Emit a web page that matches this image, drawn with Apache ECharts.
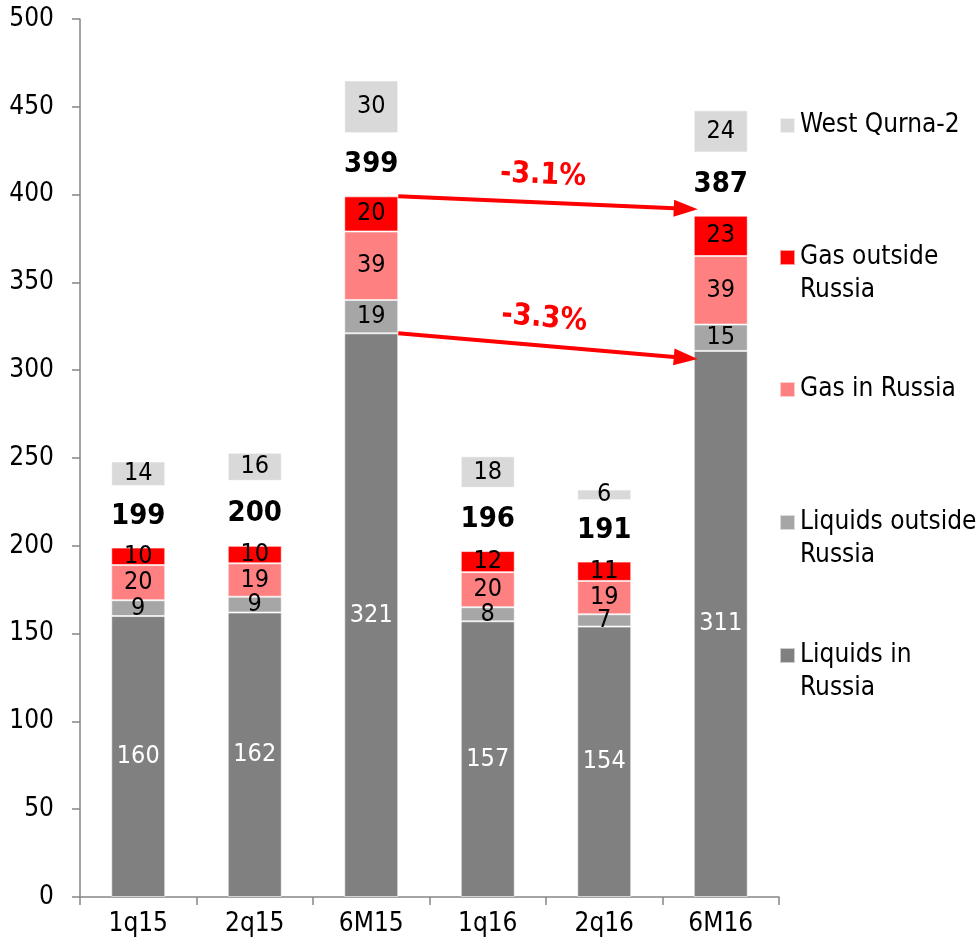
<!DOCTYPE html>
<html>
<head>
<meta charset="utf-8">
<style>
  html, body { margin: 0; padding: 0; background: #fff; }
  #chart { width: 978px; height: 948px; }
</style>
<script src="https://cdn.jsdelivr.net/npm/echarts@6/dist/echarts.min.js"></script>
</head>
<body>
<div id="chart"></div>
<script>
// values
var categories = ['1q15', '2q15', '6M15', '1q16', '2q16', '6M16'];
var liquidsInRussia = [160, 162, 321, 157, 154, 311];
var liquidsOutsideRussia = [9, 9, 19, 8, 7, 15];
var gasInRussia = [20, 19, 39, 20, 19, 39];
var gasOutsideRussia = [10, 10, 20, 12, 11, 23];
var totals = [199, 200, 399, 196, 191, 387];
var gapToWestQurna = [35, 37, 36, 36, 35, 36];
var westQurna2 = [14, 16, 30, 18, 6, 24];
var yTicks = [0, 50, 100, 150, 200, 250, 300, 350, 400, 450, 500];
// change arrows: from 6M15 to 6M16
var arrowLabels = ['-3.1%', '-3.3%'];
var arrowStart = [399, 321];
var arrowEnd = [392, 307];

var FONT = "'DejaVu Sans Condensed', 'DejaVu Sans', sans-serif";
var BAR_W = 54;
var plotW = 978 - 80 - 199;
var halfBar = BAR_W / 2 / (plotW / categories.length);
var headPad = 8 / (plotW / categories.length);

var chart = echarts.init(document.getElementById('chart'));

function segment(name, data, color, labelColor) {
  return {
    name: name,
    type: 'bar',
    stack: 'total',
    barWidth: BAR_W,
    data: data,
    itemStyle: { color: color, borderColor: 'rgba(255,255,255,0.6)', borderWidth: 1 },
    label: {
      show: true,
      position: 'inside',
      color: labelColor,
      fontFamily: FONT,
      fontSize: 25
    },
    emphasis: { disabled: true }
  };
}

// one legend per entry so each can sit where the reference puts it;
// two-line names get an empty first line so the icon lines up with line one
function legendItem(name, top, twoLines) {
  return {
    left: 779,
    top: top,
    padding: 0,
    orient: 'vertical',
    itemWidth: 15,
    itemHeight: 15,
    itemGap: 0,
    icon: 'rect',
    selectedMode: false,
    data: [name],
    formatter: function (n) { return twoLines ? ' \n' + n : n; },
    textStyle: {
      fontFamily: FONT,
      fontSize: 26,
      color: '#000',
      lineHeight: 33
    }
  };
}

var arrowLines = arrowLabels.map(function (txt, i) {
  return [
    { coord: [2 + halfBar, arrowStart[i]] },
    { coord: [5 - halfBar - headPad, arrowEnd[i]], label: { formatter: txt } }
  ];
});

var option = {
  animation: false,
  grid: { left: 80, right: 199, top: 19, bottom: 51 },
  legend: [
    legendItem('West Qurna-2', 109, false),
    legendItem('Gas outside\nRussia', 208, true),
    legendItem('Gas in Russia', 373, false),
    legendItem('Liquids outside\nRussia', 473, true),
    legendItem('Liquids in\nRussia', 606, true)
  ],
  xAxis: [{
    type: 'category',
    data: categories,
    axisLine: { lineStyle: { color: '#868686', width: 1.5 } },
    axisTick: { show: true, length: 8, lineStyle: { color: '#868686', width: 1.5 } },
    axisLabel: { color: '#000', fontFamily: FONT, fontSize: 26, margin: 14 }
  }, {
    type: 'value',
    min: -0.5,
    max: 5.5,
    show: false
  }],
  yAxis: {
    type: 'value',
    min: yTicks[0],
    max: yTicks[yTicks.length - 1],
    interval: yTicks[1] - yTicks[0],
    axisLine: { show: true, onZero: false, lineStyle: { color: '#868686', width: 1.5 } },
    axisTick: { show: true, length: 8, lineStyle: { color: '#868686', width: 1.5 } },
    splitLine: { show: false },
    axisLabel: { color: '#000', fontFamily: FONT, fontSize: 26, margin: 26 }
  },
  series: [
    segment('Liquids in\nRussia', liquidsInRussia, '#808080', '#fff'),
    segment('Liquids outside\nRussia', liquidsOutsideRussia, '#a6a6a6', '#000'),
    segment('Gas in Russia', gasInRussia, '#ff8080', '#000'),
    segment('Gas outside\nRussia', gasOutsideRussia, '#ff0000', '#000'),
    {
      name: 'gap',
      type: 'bar',
      stack: 'total',
      barWidth: BAR_W,
      data: gapToWestQurna,
      itemStyle: { color: 'transparent' },
      label: {
        show: true,
        position: 'inside',
        color: '#000',
        fontFamily: FONT,
        fontSize: 29,
        fontWeight: 'bold',
        formatter: function (p) { return totals[p.dataIndex]; }
      },
      emphasis: { disabled: true }
    },
    segment('West Qurna-2', westQurna2, '#d9d9d9', '#000'),
    {
      name: 'arrows',
      type: 'line',
      xAxisIndex: 1,
      data: [],
      markLine: {
        silent: true,
        animation: false,
        symbol: ['none', 'triangle'],
        symbolSize: [17, 24],
        lineStyle: { color: '#ff0000', width: 4, type: 'solid' },
        label: {
          show: true,
          position: 'middle',
          color: '#ff0000',
          fontFamily: FONT,
          fontSize: 30,
          fontWeight: 'bold',
          distance: 12
        },
        data: arrowLines
      }
    }
  ]
};

chart.setOption(option);
</script>
</body>
</html>
